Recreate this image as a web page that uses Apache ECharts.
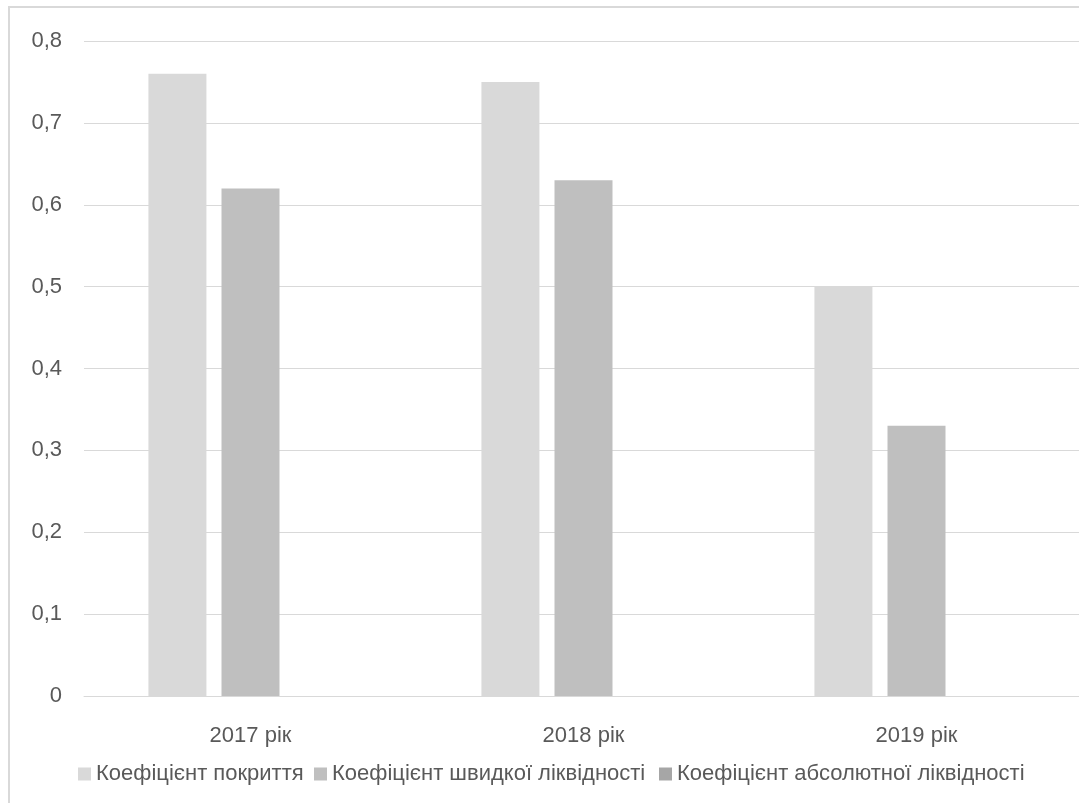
<!DOCTYPE html>
<html>
<head>
<meta charset="utf-8">
<script src="https://cdn.jsdelivr.net/npm/echarts@6/dist/echarts.min.js"></script>
<style>
  html, body { margin: 0; padding: 0; background: #ffffff; }
  #chart { width: 1079px; height: 803px; }
</style>
</head>
<body>
<div id="chart"></div>
<script>
// Liquidity ratios by year
const years = ['2017 рік', '2018 рік', '2019 рік'];
const seriesNames = [
  'Коефіцієнт покриття',
  'Коефіцієнт швидкої ліквідності',
  'Коефіцієнт абсолютної ліквідності'
];
const coverageRatio = [0.76, 0.75, 0.50];
const quickRatio = [0.62, 0.63, 0.33];
const absoluteRatio = [0, 0, 0];
const seriesColors = ['#d9d9d9', '#bfbfbf', '#a6a6a6'];

const font = 'Liberation Sans, Arial, sans-serif';
const chart = echarts.init(document.getElementById('chart'));

const valueSets = [coverageRatio, quickRatio, absoluteRatio];
// left offsets of the three legend entries along the bottom row
const legendLefts = [73, 309, 654];

chart.setOption({
  animation: false,
  backgroundColor: '#ffffff',
  color: seriesColors,
  graphic: [{
    type: 'rect',
    shape: { x: 9, y: 7, width: 1200, height: 1000 },
    style: { fill: 'none', stroke: '#d9d9d9', lineWidth: 2 },
    silent: true
  }],
  grid: {
    left: 84,
    top: 41,
    width: 999,
    height: 655,
    outerBoundsMode: 'none'
  },
  legend: seriesNames.map((name, i) => ({
    left: legendLefts[i],
    top: 758,
    itemWidth: 13,
    itemHeight: 13,
    icon: 'rect',
    textStyle: { fontFamily: font, fontSize: 22, color: '#595959' },
    data: [name]
  })),
  xAxis: {
    type: 'category',
    data: years,
    axisLine: { show: true, lineStyle: { color: '#d9d9d9', width: 1 } },
    axisTick: { show: false },
    axisLabel: { fontFamily: font, fontSize: 22, color: '#595959', margin: 29 }
  },
  yAxis: {
    type: 'value',
    min: 0,
    max: 0.8,
    interval: 0.1,
    axisLine: { show: false },
    axisTick: { show: false },
    splitLine: { lineStyle: { color: '#d9d9d9', width: 1 } },
    axisLabel: {
      fontFamily: font,
      fontSize: 22,
      color: '#595959',
      margin: 22,
      formatter: v => String(Math.round(v * 10) / 10).replace('.', ',')
    }
  },
  series: seriesNames.map((name, i) => ({
    name: name,
    type: 'bar',
    data: valueSets[i],
    barWidth: 58,
    barGap: '26%',
    itemStyle: { color: seriesColors[i] }
  }))
});
</script>
</body>
</html>
